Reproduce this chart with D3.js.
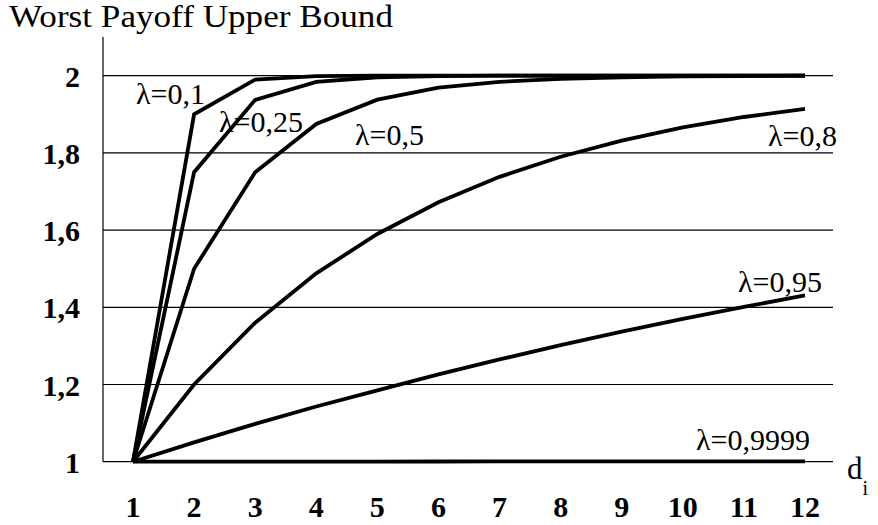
<!DOCTYPE html>
<html><head><meta charset="utf-8">
<script src="https://cdn.jsdelivr.net/npm/d3@7"></script>
<style>body{margin:0;background:#fff}svg{display:block}</style>
</head><body>
<svg id="c" width="878" height="525"></svg>
<script>
const dValues = [1,2,3,4,5,6,7,8,9,10,11,12];
const yTicks = [1,1.2,1.4,1.6,1.8,2];
const yTickLabels = ["1","1,2","1,4","1,6","1,8","2"];
const lambda01    = [1,1.9,1.99,1.999,2,2,2,2,2,2,2,2];
const lambda025   = [1,1.75,1.9375,1.984,1.996,1.999,2,2,2,2,2,2];
const lambda05    = [1,1.5,1.75,1.875,1.938,1.969,1.984,1.992,1.996,1.998,1.999,2];
const lambda08    = [1,1.2,1.36,1.488,1.59,1.672,1.738,1.79,1.832,1.866,1.893,1.914];
const lambda095   = [1,1.05,1.098,1.143,1.185,1.226,1.265,1.302,1.337,1.37,1.401,1.431];
const lambda09999 = [1,1.0001,1.0002,1.0003,1.0004,1.0005,1.0006,1.0007,1.0008,1.0009,1.001,1.0011];
const seriesLabels = ["λ=0,1","λ=0,25","λ=0,5","λ=0,8","λ=0,95","λ=0,9999"];
const title = "Worst Payoff Upper Bound";

const FONT = "Liberation Serif";
const series = [lambda01,lambda025,lambda05,lambda08,lambda095,lambda09999];
const svg = d3.select("#c");
const x = d3.scaleLinear().domain([1,12]).range([133,805]);
const y = d3.scaleLinear().domain([1,2]).range([461.7,75.7]);
const x0 = 103, x1 = 833;

svg.append("g").selectAll("line").data(yTicks).join("line")
  .attr("x1",x0).attr("x2",x1).attr("y1",d=>y(d)).attr("y2",d=>y(d))
  .attr("stroke","#000").attr("stroke-width",1.2);
svg.append("line").attr("x1",x0).attr("x2",x0).attr("y1",37).attr("y2",y(1))
  .attr("stroke","#000").attr("stroke-width",1.2);

svg.append("g").selectAll("text").data(yTicks).join("text")
  .attr("x",80).attr("y",d=>y(d)+11).attr("text-anchor","end")
  .attr("font-size",30).attr("font-weight","bold").style("font-family",FONT)
  .text((d,i)=>yTickLabels[i]);
svg.append("g").selectAll("text").data(dValues).join("text")
  .attr("x",d=>x(d)).attr("y",517).attr("text-anchor","middle")
  .attr("font-size",30).attr("font-weight","bold").style("font-family",FONT)
  .text(d=>d);

const line = d3.line().x((v,i)=>x(dValues[i])).y(v=>y(v));
svg.append("g").selectAll("path").data(series).join("path")
  .attr("d",line).attr("fill","none").attr("stroke","#000")
  .attr("stroke-width",3.8).attr("stroke-linejoin","miter");

const labelPos = [
  {x:136,y:104,a:"start"},
  {x:219,y:132,a:"start"},
  {x:355,y:145,a:"start"},
  {x:837,y:146,a:"end"},
  {x:822,y:292,a:"end"},
  {x:810,y:450,a:"end"}
];
svg.append("g").selectAll("text").data(seriesLabels).join("text")
  .attr("x",(d,i)=>labelPos[i].x).attr("y",(d,i)=>labelPos[i].y)
  .attr("text-anchor",(d,i)=>labelPos[i].a)
  .attr("font-size",30).style("font-family",FONT).text(d=>d);

svg.append("text").attr("x",9).attr("y",27).attr("font-size",31).style("font-family",FONT)
  .attr("textLength",384).attr("lengthAdjust","spacingAndGlyphs").text(title);

const dl = svg.append("text").attr("x",847).attr("y",479).attr("font-size",31).style("font-family",FONT);
dl.append("tspan").text("d");
dl.append("tspan").attr("font-size",20).attr("dy",16).text("i");
</script>
</body></html>
